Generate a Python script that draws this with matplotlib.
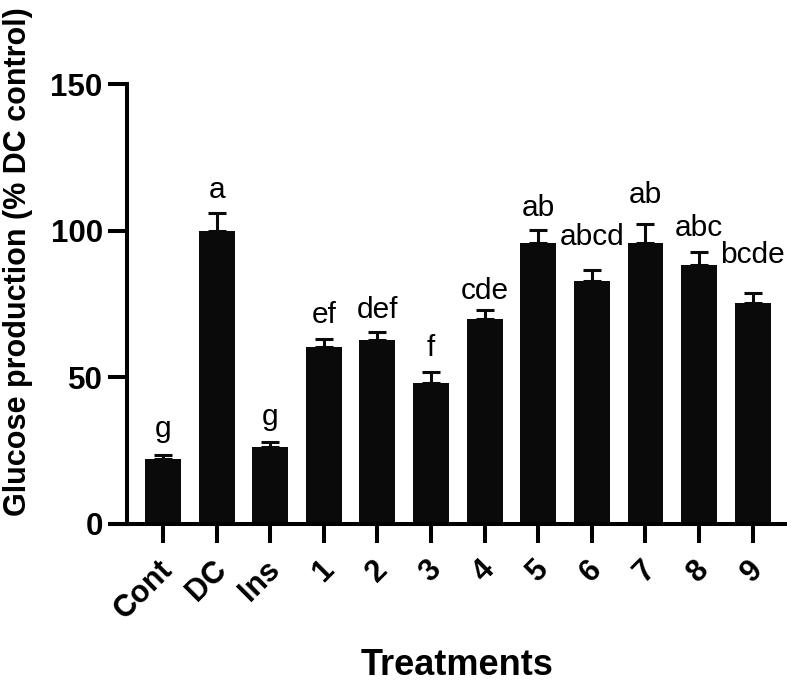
import matplotlib
matplotlib.use('Agg')
import matplotlib.pyplot as plt
import matplotlib.transforms as mtransforms
import numpy as np

treatments = ['Cont', 'DC', 'Ins', '1', '2', '3', '4', '5', '6', '7', '8', '9']
glucose = [22.3, 100.0, 26.1, 60.2, 62.7, 48.2, 69.8, 95.7, 83.0, 95.7, 88.3, 75.2]
sem = [1.3, 5.9, 1.9, 3.0, 2.9, 3.7, 3.2, 4.5, 3.6, 6.6, 4.3, 3.4]
letters = ['g', 'a', 'g', 'ef', 'def', 'f', 'cde', 'ab', 'abcd', 'ab', 'abc', 'bcde']
# gap between cap and letter baseline, in points (hand placed in the original)
gaps = [13, 11, 12, 11, 10, 11, 8, 10, 18, 15, 12, 22]

plt.rcParams['font.family'] = ['Liberation Sans', 'DejaVu Sans']

fig = plt.figure(figsize=(7.92, 6.88), dpi=100)
ax = fig.add_axes([0.1604, 0.2384, 0.8333, 0.6395])

x = np.arange(len(treatments))
ax.bar(x, glucose, width=0.67, color='#0a0a0a', zorder=2)
ax.errorbar(x, glucose, yerr=[np.zeros(len(x)), sem], fmt='none',
            ecolor='#0a0a0a', elinewidth=2.2, capsize=6.5, capthick=2.2, zorder=1)

for xi, g, e, lab, gp in zip(x, glucose, sem, letters, gaps):
    ax.annotate(lab, (xi, g + e), xytext=(0, gp), textcoords='offset points',
                ha='center', va='baseline', fontsize=21.5)

ax.set_xlim(-0.67, 11.64)
ax.set_ylim(0, 150)
ax.set_yticks([0, 50, 100, 150])

for s in ['top', 'right']:
    ax.spines[s].set_visible(False)
for s in ['left', 'bottom']:
    ax.spines[s].set_linewidth(2.9)
ax.spines['bottom'].set_bounds(-1.03, 11.64)
ax.spines['bottom'].set_capstyle('butt')

ax.tick_params(axis='both', length=14, width=2.9)
ax.tick_params(axis='y', labelsize=22.5, pad=3.5)
ax.set_xticks(x)
ax.set_xticklabels(treatments, rotation=45, ha='right', rotation_mode='anchor',
                   fontsize=22, fontweight='bold')
ax.tick_params(axis='x', pad=8)
shift = mtransforms.ScaledTranslation(-5 / 100, 0, fig.dpi_scale_trans)
for t in ax.get_xticklabels():
    t.set_transform(t.get_transform() + shift)
for t in ax.get_yticklabels():
    t.set_fontweight('bold')

ax.set_ylabel('Glucose production (% DC control)', fontsize=22, fontweight='bold')
ax.yaxis.set_label_coords(-0.143, 0.597)
ax.set_xlabel('Treatments', fontsize=26, fontweight='bold')
ax.xaxis.set_label_coords(0.5, -0.283)

fig.savefig('out.png', dpi=100)
